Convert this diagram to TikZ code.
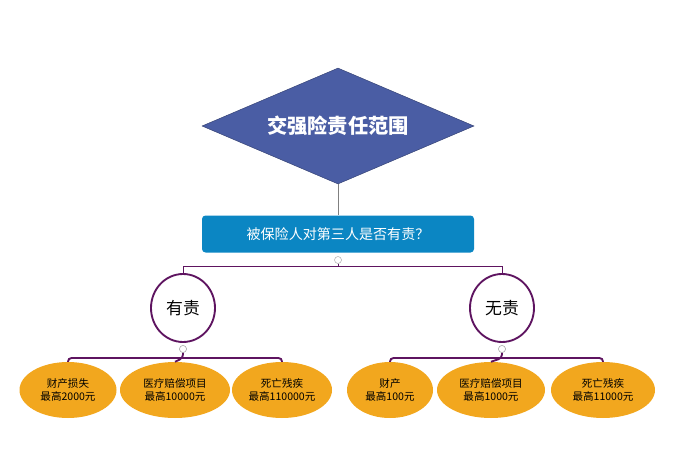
\documentclass[tikz,border=0pt]{standalone}
\usepackage{fontspec}
\newfontfamily\cjk{Noto Sans CJK SC}
\usetikzlibrary{shapes.geometric}
\definecolor{topblue}{HTML}{4A5DA4}
\definecolor{boxblue}{HTML}{0B86C3}
\definecolor{ringpurple}{HTML}{5E1460}
\definecolor{leaforange}{HTML}{F2A71E}
\tikzset{
  ring/.style = {ellipse, draw = ringpurple, line width = 1.6pt, fill = white,
    minimum width = 64*0.03cm, minimum height = 68*0.03cm, inner sep = 0pt, font = \cjk\Large},
  leaf/.style = {ellipse, fill = leaforange, minimum height = 56*0.03cm,
    inner sep = 0pt, align = center, font = \cjk\small},
  knob/.style = {circle, draw = gray!70, fill = white, inner sep = 0pt, minimum size = 7*0.03cm},
  link/.style = {ringpurple, line width = 1.6pt, rounded corners = 3pt}
}
\begin{document}
\begin{tikzpicture}[x = 0.03cm, y = -0.03cm]
\useasboundingbox (0,0) rectangle (698,473);
\node[diamond, fill = topblue, draw = topblue!70!black, aspect = 2.35, minimum width = 272*0.03cm,
  minimum height = 116*0.03cm, inner sep = 0pt, text = white, font = \cjk\bfseries\LARGE] (top) at (338,126) {交强险责任范围};
\node[fill = boxblue, rounded corners = 3pt, minimum width = 272*0.03cm, minimum height = 37*0.03cm,
  text = white, font = \cjk\large] (ask) at (338,234) {被保险人对第三人是否有责？};
\draw[gray] (top.south) -- (ask.north);
\node[knob] (k0) at (338,260) {};
\node[ring] (yes) at (183,308) {有责};
\node[ring] (no) at (502,308) {无责};
\draw[ringpurple, thick] (k0) -- (338,266) -| (yes.north);
\draw[ringpurple, thick] (338,266) -| (no.north);
\node[knob] (k1) at (183,349) {};
\node[knob] (k2) at (502,349) {};
% leaves
\node[leaf, minimum width = 97*0.03cm] (l1) at (68,390) {财产损失\\最高2000元};
\node[leaf, minimum width = 110*0.03cm] (l2) at (175,390) {医疗赔偿项目\\最高10000元};
\node[leaf, minimum width = 100*0.03cm] (l3) at (282,390) {死亡残疾\\最高110000元};
\node[leaf, minimum width = 86*0.03cm] (r1) at (390,390) {财产\\最高100元};
\node[leaf, minimum width = 108*0.03cm] (r2) at (491,390) {医疗赔偿项目\\最高1000元};
\node[leaf, minimum width = 104*0.03cm] (r3) at (603,390) {死亡残疾\\最高11000元};
\draw[link] (l1.north) -- (l1.north |- 0,358) -- (l3.north |- 0,358) -- (l3.north);
\draw[link] (k1) -- (183,358) -- (l2.north);
\draw[link] (r1.north) -- (r1.north |- 0,358) -- (r3.north |- 0,358) -- (r3.north);
\draw[link] (k2) -- (502,358) -- (r2.north);
\node[knob] at (k1) {};
\node[knob] at (k2) {};
\end{tikzpicture}
\end{document}
